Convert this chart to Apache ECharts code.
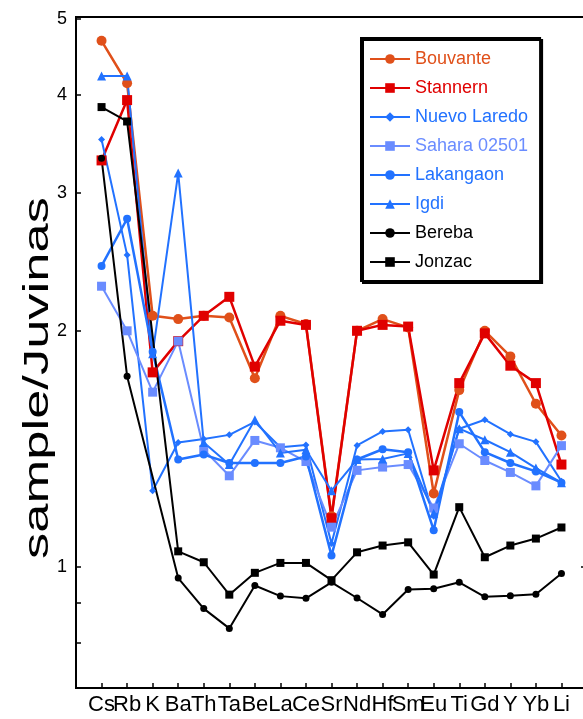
<!DOCTYPE html>
<html>
<head>
<meta charset="utf-8">
<script src="https://cdn.jsdelivr.net/npm/echarts@6/dist/echarts.min.js"></script>
<style>html,body{margin:0;padding:0;background:#fff;}#c{width:583px;height:719px;}</style>
</head>
<body>
<div id="c"></div>
<script>
const categories = ['Cs','Rb','K','Ba','Th','Ta','Be','La','Ce','Sr','Nd','Hf','Sm','Eu','Ti','Gd','Y','Yb','Li'];
const yTickValues = [0.8, 0.9, 1, 2, 3, 4, 5];
const yLabelValues = [1, 2, 3, 4, 5];

const bouvante    = [4.69, 4.14, 2.09, 2.07, 2.09, 2.08, 1.74, 2.09, 2.04, 1.16, 2.00, 2.07, 2.02, 1.24, 1.68, 2.00, 1.855, 1.614, 1.47];
const stannern    = [3.30, 3.94, 1.77, 1.94, 2.09, 2.21, 1.80, 2.06, 2.035, 1.153, 2.00, 2.035, 2.025, 1.327, 1.715, 1.985, 1.805, 1.715, 1.35];
const nuevoLaredo = [3.51, 2.50, 1.25, 1.44, 1.455, 1.473, 1.53, 1.42, 1.43, 1.07, 1.428, 1.488, 1.495, 1.16, 1.50, 1.54, 1.476, 1.443, 1.285];
const sahara      = [2.28, 2.00, 1.67, 1.94, 1.41, 1.306, 1.449, 1.418, 1.362, 1.123, 1.327, 1.34, 1.35, 1.188, 1.435, 1.366, 1.319, 1.268, 1.427];
const lakangaon   = [2.42, 2.78, 1.88, 1.37, 1.39, 1.356, 1.356, 1.356, 1.382, 1.033, 1.37, 1.412, 1.40, 1.113, 1.575, 1.40, 1.356, 1.323, 1.28];
const igdi        = [4.23, 4.23, 1.87, 3.18, 1.44, 1.35, 1.54, 1.397, 1.41, 1.25, 1.37, 1.372, 1.395, 1.17, 1.50, 1.452, 1.40, 1.336, 1.28];
const bereba      = [3.32, 1.75, null, 0.967, 0.884, 0.834, 0.946, 0.917, 0.911, 0.955, 0.912, 0.869, 0.935, 0.937, 0.955, 0.915, 0.918, 0.922, 0.980];
const jonzac      = [3.86, 3.70, null, 1.046, 1.013, 0.921, 0.982, 1.011, 1.011, 0.961, 1.043, 1.064, 1.074, 0.977, 1.191, 1.028, 1.064, 1.086, 1.122];

const seriesDefs = [
  {name:'Bouvante',     data:bouvante,    color:'#e0501a', symbol:'circle',   size:10, width:2.5},
  {name:'Stannern',     data:stannern,    color:'#e00000', symbol:'rect',     size:10, width:2.5},
  {name:'Nuevo Laredo', data:nuevoLaredo, color:'#2272ff', symbol:'diamond',  size:7,  width:2},
  {name:'Sahara 02501', data:sahara,      color:'#6a8cff', symbol:'rect',     size:9,  width:2},
  {name:'Lakangaon',    data:lakangaon,   color:'#2272ff', symbol:'circle',   size:8,  width:2.5},
  {name:'Igdi',         data:igdi,        color:'#2272ff', symbol:'triangle', size:9,  width:2},
  {name:'Bereba',       data:bereba,      color:'#000000', symbol:'circle',   size:7,  width:2},
  {name:'Jonzac',       data:jonzac,      color:'#000000', symbol:'rect',     size:8,  width:2}
];

const pad = arr => [null].concat(arr, [null]);
const lg = v => Math.log10(v);
const yMin = 0.7, yMax = 5.03;

const chart = echarts.init(document.getElementById('c'), null, {renderer:'canvas'});
chart.setOption({
  animation:false,
  backgroundColor:'#fff',
  grid:{left:76, right:-4, top:17, bottom:31, outerBoundsMode:'none', containLabel:false,
        show:true, borderColor:'#000', borderWidth:2, backgroundColor:'transparent'},
  xAxis:{
    type:'category', boundaryGap:false, data:[''].concat(categories, ['']),
    axisLine:{onZero:false, lineStyle:{color:'#000', width:2}},
    axisTick:{inside:true, length:5, interval:0, lineStyle:{color:'#000', width:1.5}},
    axisLabel:{interval:0, margin:6, color:'#000', fontSize:22, fontFamily:'"Liberation Sans Narrow", "Liberation Sans", Arial, sans-serif'},
    splitLine:{show:false}
  },
  yAxis:[
    {type:'log', logBase:10, min:yMin, max:yMax, show:false, splitLine:{show:false}},
    {type:'value', position:'left', min:lg(yMin), max:lg(yMax),
      axisLine:{show:true, onZero:false, lineStyle:{color:'#000', width:2}},
      axisTick:{show:true, inside:true, length:5, customValues:yTickValues.map(lg), lineStyle:{color:'#000', width:1.5}},
      axisLabel:{customValues:yLabelValues.map(lg), margin:9, color:'#000', fontSize:18,
        fontFamily:'"Liberation Sans Narrow", "Liberation Sans", Arial, sans-serif',
        formatter:v => String(Math.round(Math.pow(10, v)))},
      splitLine:{show:false}},
    {type:'value', position:'right', min:lg(yMin), max:lg(yMax),
      axisLine:{show:false, onZero:false},
      axisTick:{show:true, inside:true, length:6, customValues:[lg(1)], lineStyle:{color:'#000', width:1.5}},
      axisLabel:{show:false}, splitLine:{show:false}}
  ],
  legend:{
    orient:'vertical', left:361, top:38, padding:[12,12,10,8],
    itemWidth:40, itemHeight:12, itemGap:11,
    borderColor:'#000', borderWidth:2, backgroundColor:'#fff',
    shadowColor:'#000', shadowOffsetX:2, shadowOffsetY:2, shadowBlur:0,
    textStyle:{fontSize:18, fontFamily:'"Liberation Sans", Arial, sans-serif'},
    data:seriesDefs.map(s => ({name:s.name, textStyle:{color:s.color}}))
  },
  graphic:[{
    type:'text', x:38, y:378, rotation:Math.PI/2, scaleX:1.5,
    style:{text:'sample/Juvinas', font:'35px "Liberation Sans", Arial, sans-serif', fill:'#000', textAlign:'center', textVerticalAlign:'middle'}
  }],
  series:seriesDefs.map(s => ({
    name:s.name, type:'line', yAxisIndex:0, data:pad(s.data), connectNulls:true,
    symbol:s.symbol, symbolSize:s.size, showAllSymbol:true,
    itemStyle:{color:s.color}, lineStyle:{color:s.color, width:s.width},
    emphasis:{disabled:true}
  }))
});
</script>
</body>
</html>
